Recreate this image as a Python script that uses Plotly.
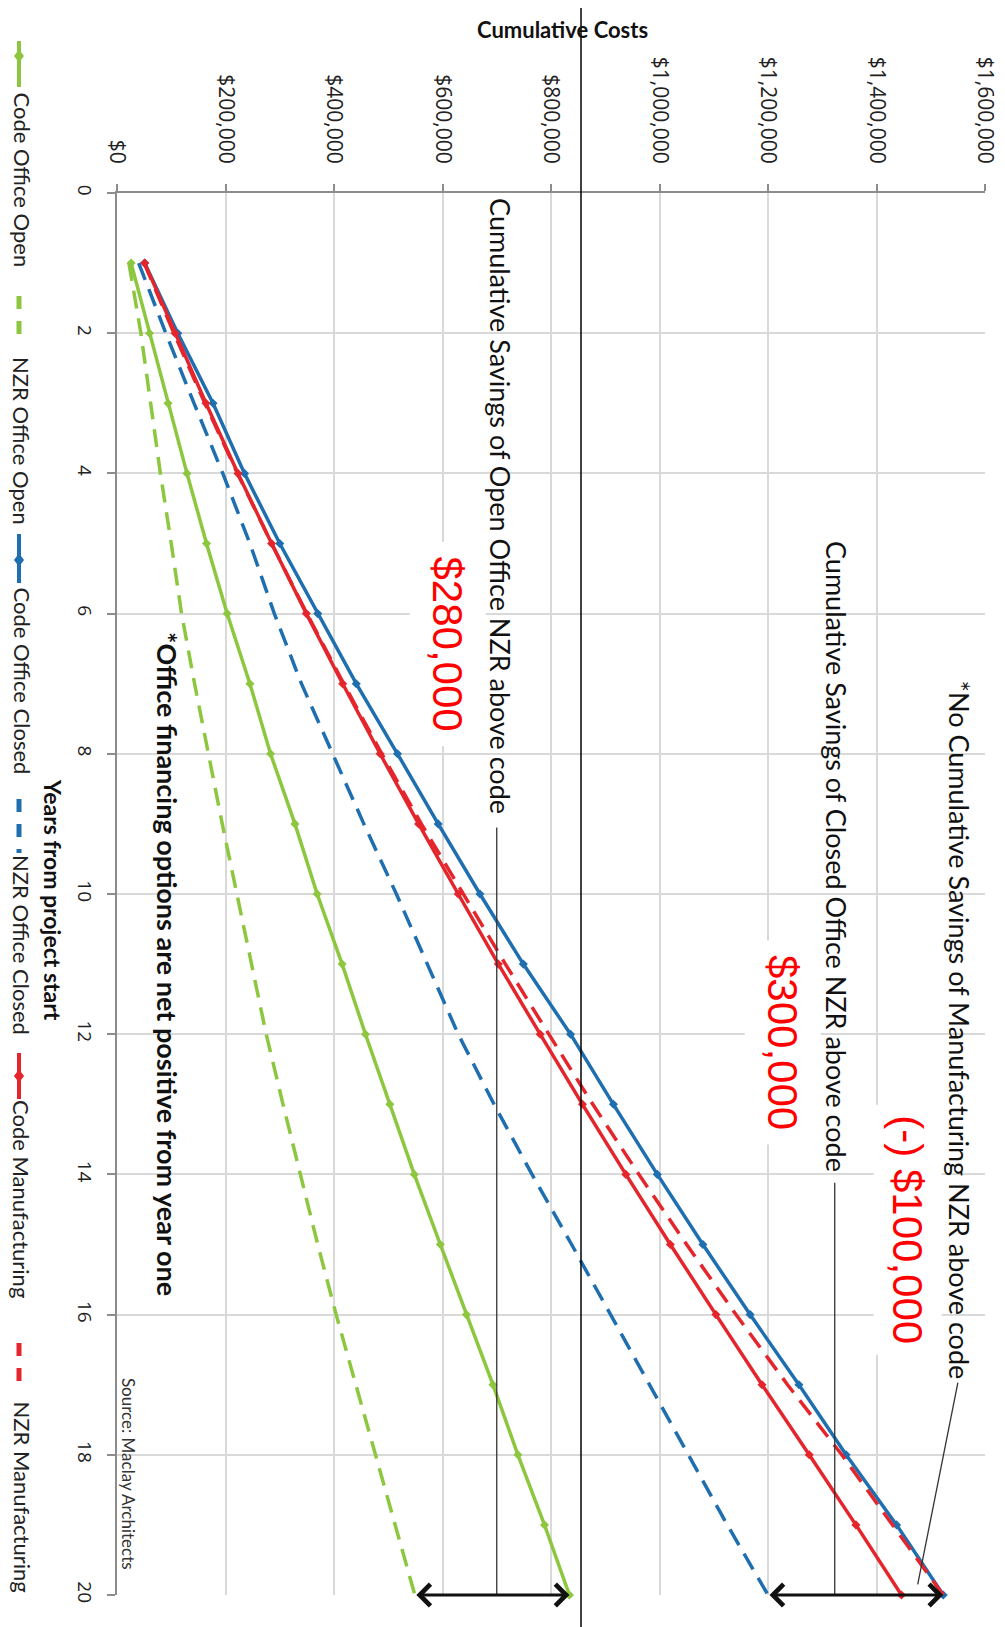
import plotly.graph_objects as go

# ---------------- data (values in US$ thousands) ----------------
years = list(range(1, 21))
code_office_open = [26, 60, 94, 129, 165, 203, 245, 283, 328, 369, 415, 458, 503, 548, 596, 644, 693, 739, 788, 834]
nzr_office_open = [22, 44, 62, 80, 100, 119, 143, 168, 194, 221, 248, 275, 306, 338, 370, 404, 440, 477, 513, 549]
code_office_closed = [51, 112, 177, 235, 300, 370, 441, 517, 592, 669, 749, 836, 915, 996, 1080, 1167, 1257, 1344, 1437, 1523]
nzr_office_closed = [40, 90, 142, 195, 245, 290, 340, 398, 455, 515, 572, 629, 695, 765, 838, 910, 982, 1053, 1125, 1200]
code_manufacturing = [51, 107, 164, 223, 285, 349, 416, 485, 556, 629, 703, 780, 858, 938, 1020, 1104, 1189, 1276, 1362, 1446]
nzr_manufacturing = [50, 105, 162, 222, 285, 350, 418, 488, 561, 638, 716, 796, 877, 962, 1050, 1141, 1236, 1336, 1430, 1523]

cost_ticks = [0, 200000, 400000, 600000, 800000, 1000000, 1200000, 1400000, 1600000]
cost_tick_labels = ["$0", "$200,000", "$400,000", "$600,000", "$800,000",
                    "$1,000,000", "$1,200,000", "$1,400,000", "$1,600,000"]
year_ticks = [0, 2, 4, 6, 8, 10, 12, 14, 16, 18, 20]

series_names = ["Code Office Open", "NZR Office Open", "Code Office Closed",
                "NZR Office Closed", "Code Manufacturing", "NZR Manufacturing"]
series_values = [code_office_open, nzr_office_open, code_office_closed,
                 nzr_office_closed, code_manufacturing, nzr_manufacturing]

GREEN = "#8DC63F"
BLUE = "#1F6FB0"
RED = "#E4262C"
colors = [GREEN, GREEN, BLUE, BLUE, RED, RED]
dashed = [False, True, False, True, False, True]
DASH = "18px,10px"

# The page body adds an 8px offset; figure is sized so that the
# plot area lands at screen x 117..985, y 193..1595.
OFF = 8
W, H = 997, 1619
SX0, SX1, SY0, SY1 = 117, 985, 193, 1595          # screen coords of plot area
ML, MT = SX0 - OFF, SY0 - OFF
MR, MB = W - (SX1 - OFF), H - (SY1 - OFF)
PW, PH = SX1 - SX0, SY1 - SY0


def pxx(x):
    return (x - SX0) / PW


def pxy(y):
    return (SY1 - y) / PH


fig = go.Figure()
for name, vals, col, dsh in zip(series_names, series_values, colors, dashed):
    fig.add_trace(go.Scatter(
        x=[v * 1000 for v in vals], y=years, name=name,
        mode="lines" if dsh else "lines+markers",
        line=dict(color=col, width=3.5, dash=DASH if dsh else "solid"),
        marker=dict(color=col, size=7, symbol="diamond"),
        cliponaxis=False, showlegend=False, hoverinfo="skip"))

ann = []
shapes = []

# --------- rotated legend on left edge (screen coords) ---------
key_spans = [(41, 87), (296, 342), (534, 583), (799, 853), (1053, 1099), (1343, 1390)]
marker_pos = [56, None, 560, None, 1076, None]
text_starts = [90, 355, 585, 853, 1098, 1399]
KX = 19
LX = 22
for name, col, dsh, (k0, k1), mp, t0 in zip(series_names, colors, dashed, key_spans, marker_pos, text_starts):
    if dsh:
        shapes.append(dict(type="line", xref="paper", yref="paper",
                           x0=pxx(KX), x1=pxx(KX), y0=pxy(k0), y1=pxy(k1),
                           line=dict(color=col, width=5, dash="13px,12px")))
    else:
        shapes.append(dict(type="line", xref="paper", yref="paper",
                           x0=pxx(KX), x1=pxx(KX), y0=pxy(k0), y1=pxy(k1),
                           line=dict(color=col, width=4)))
        shapes.append(dict(type="path", xref="paper", yref="paper",
                           path="M {} {} L {} {} L {} {} L {} {} Z".format(
                               pxx(KX), pxy(mp - 6), pxx(KX + 4.5), pxy(mp),
                               pxx(KX), pxy(mp + 6), pxx(KX - 4.5), pxy(mp)),
                           fillcolor=col, line=dict(color=col, width=1)))
    ann.append(dict(text=name, xref="paper", yref="paper", x=pxx(LX), y=pxy(t0),
                    xanchor="center", yanchor="top", textangle=90, showarrow=False,
                    font=dict(family="Lato", size=22, color="#222")))

# --------- titles ---------
ann.append(dict(text="<b>Cumulative Costs</b>", xref="paper", yref="paper",
                x=pxx(562), y=pxy(29), xanchor="center", yanchor="middle",
                showarrow=False, font=dict(family="Lato", size=22, color="#111")))
ann.append(dict(text="<b>Years from project start</b>", xref="paper", yref="paper",
                x=pxx(53), y=pxy(900), xanchor="center", yanchor="middle",
                textangle=90, showarrow=False, font=dict(family="Lato", size=23, color="#111")))


# --------- chart annotations (data coordinates) ---------
def dtext(t, x, y, size, color="#111", family="Lato", bg=None, pad=1):
    d = dict(text=t, xref="x", yref="y", x=x, y=y, xanchor="center", yanchor="middle",
             textangle=90, showarrow=False, font=dict(family=family, size=size, color=color),
             borderpad=pad)
    if bg:
        d["bgcolor"] = bg
    ann.append(d)


dtext("Cumulative Savings of Open Office NZR above code", 707000, 4.46, 27)
dtext("$280,000", 610000, 6.44, 42, color="#FF0000", family="Liberation Sans", bg="white", pad=14)
dtext("Cumulative Savings of Closed Office NZR above code", 1325000, 9.47, 27)
dtext("$300,000", 1227000, 12.12, 42, color="#FF0000", family="Liberation Sans", bg="white", pad=14)
dtext("*No Cumulative Savings of Manufacturing NZR above code", 1553000, 11.94, 27)
dtext("(-) $100,000", 1457000, 14.79, 42, color="#FF0000", family="Liberation Sans", bg="white", pad=10)
dtext("<b>*Office financing options are net positive from year one</b>", 94000, 11.0, 27)
dtext("Source: Maclay Architects", 20000, 18.27, 17, color="#333")

# leader lines
shapes.append(dict(type="line", xref="x", yref="y", x0=700000, x1=700000, y0=9.05, y1=20,
                   line=dict(color="#333", width=1.3)))
shapes.append(dict(type="line", xref="x", yref="y", x0=1323000, x1=1323000, y0=14.12, y1=20,
                   line=dict(color="#333", width=1.3)))
shapes.append(dict(type="line", xref="x", yref="y", x0=1550000, x1=1476000, y0=16.97, y1=19.85,
                   line=dict(color="#333", width=1.3)))

# double-headed savings arrows at year 20
for lo, hi in [(nzr_office_open[-1], code_office_open[-1]),
               (nzr_office_closed[-1], nzr_manufacturing[-1])]:
    ann.append(dict(text="", xref="x", yref="y", axref="x", ayref="y",
                    x=hi * 1000, y=years[-1], ax=lo * 1000, ay=years[-1],
                    showarrow=True, arrowhead=4, startarrowhead=4, arrowside="end+start",
                    arrowsize=1.3, startarrowsize=1.3, arrowwidth=3.2, arrowcolor="#111",
                    standoff=0, startstandoff=0))

# scan fold line
shapes.append(dict(type="line", xref="paper", yref="paper", x0=pxx(581), x1=pxx(581),
                   y0=pxy(1630), y1=pxy(0), line=dict(color="#000", width=1.5)))

fig.update_layout(
    width=W, height=H, margin=dict(l=ML, r=MR, t=MT, b=MB, pad=0, autoexpand=False),
    paper_bgcolor="white", plot_bgcolor="white",
    annotations=ann, shapes=shapes, showlegend=False,
    xaxis=dict(range=[0, 1600000], side="top", tickmode="array", tickvals=cost_ticks,
               ticktext=cost_tick_labels, tickangle=90, showgrid=True, gridcolor="#d9d9d9",
               gridwidth=1.5, showline=True, linecolor="#8c8c8c", linewidth=2, ticks="outside",
               ticklen=7, tickcolor="#8c8c8c", tickwidth=1.5, zeroline=False, automargin=False,
               ticklabelstandoff=13, tickfont=dict(family="Open Sans", size=21, color="#222")),
    yaxis=dict(range=[20, 0], tickmode="array", tickvals=year_ticks, tickangle=90,
               showgrid=True, gridcolor="#d9d9d9", gridwidth=1.5, showline=True,
               linecolor="#8c8c8c", linewidth=2, ticks="outside", ticklen=8,
               tickcolor="#8c8c8c", tickwidth=1.5, zeroline=False, ticklabelstandoff=6,
               automargin=False, tickfont=dict(family="Open Sans", size=19, color="#222")),
)

fig.write_html("out.html")
